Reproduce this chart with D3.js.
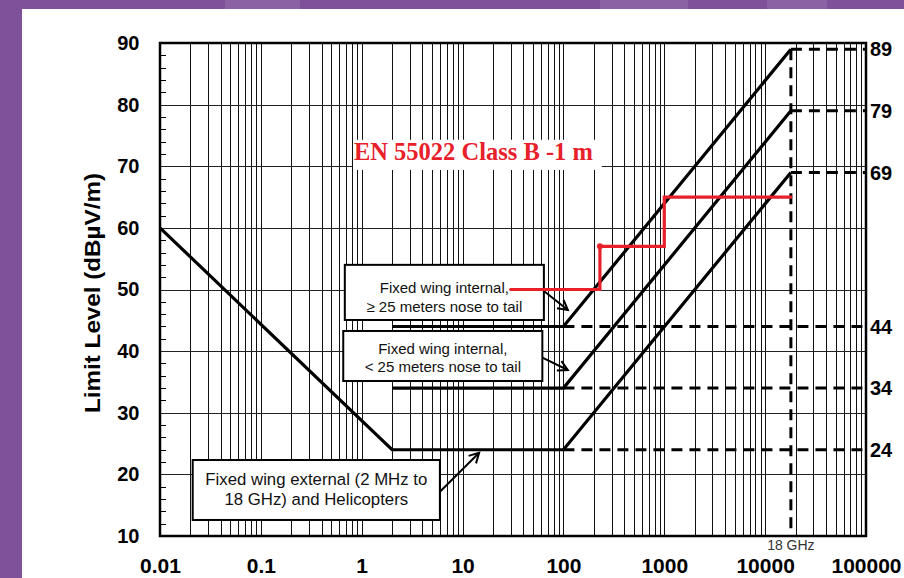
<!DOCTYPE html>
<html>
<head>
<meta charset="utf-8">
<script src="https://cdn.jsdelivr.net/npm/d3@7"></script>
<style>
  html, body { margin: 0; padding: 0; background: #7f519a; }
  svg { display: block; }
</style>
</head>
<body>
<svg id="chart" width="904" height="578"></svg>
<script>
// Frequency axis (MHz, log) and level axis (dBµV/m)
const freqDomain = [0.01, 100000];
const levelDomain = [10, 90];
const xTickValues = [0.01, 0.1, 1, 10, 100, 1000, 10000, 100000];
const xTickLabels = ["0.01", "0.1", "1", "10", "100", "1000", "10000", "100000"];
const yTickValues = [10, 20, 30, 40, 50, 60, 70, 80, 90];

// Limit curves
const externalFreq = [0.01, 2, 100, 18000];
const externalLevel = [60, 24, 24, 69];
const internalShortFreq = [2, 100, 18000];
const internalShortLevel = [34, 34, 79];
const internalLongFreq = [2, 100, 18000];
const internalLongLevel = [44, 44, 89];

// EN 55022 Class B at 1 m
const classBFreq = [30, 230, 230, 1000, 1000, 18000];
const classBLevel = [50, 50, 57, 57, 65, 65];

// Reference levels marked on the right
const kneeLevels = [24, 34, 44];
const topLevels = [69, 79, 89];
const rightLabels = ["89", "79", "69", "44", "34", "24"];
const rightLabelLevels = [89, 79, 69, 44, 34, 24];
const kneeFreq = 100;
const upperFreq = 18000;

const svg = d3.select("#chart");
const W = 904, H = 578;
const plot = { left: 160, right: 866, top: 43, bottom: 536 };
const FONT = "'Liberation Sans', Arial, Helvetica, sans-serif";

// page background: purple frame with white panel
svg.append("rect").attr("width", W).attr("height", H).attr("fill", "#7f519a");
[[225, 300], [600, 688], [767, 827]].forEach(([a, b]) => {
  svg.append("rect").attr("x", a).attr("y", 0).attr("width", b - a).attr("height", 9)
    .attr("fill", "#8b63a4");
});
svg.append("rect").attr("x", 22).attr("y", 9).attr("width", W - 22).attr("height", H - 9)
  .attr("fill", "#ffffff");

const x = d3.scaleLog().domain(freqDomain).range([plot.left, plot.right]);
const y = d3.scaleLinear().domain(levelDomain).range([plot.bottom, plot.top]);

// grid
const grid = svg.append("g");
grid.selectAll("line.v").data(x.ticks().filter(v => v > freqDomain[0] * 1.0001 && v < freqDomain[1] * 0.9999))
  .join("line").attr("class", "v")
  .attr("x1", d => Math.round(x(d)) + 0.5).attr("x2", d => Math.round(x(d)) + 0.5)
  .attr("y1", plot.top).attr("y2", plot.bottom)
  .attr("stroke", "#111").attr("stroke-width", 1);
grid.selectAll("line.h").data(yTickValues.slice(1, -1))
  .join("line").attr("class", "h")
  .attr("x1", plot.left).attr("x2", plot.right)
  .attr("y1", d => Math.round(y(d)) + 0.5).attr("y2", d => Math.round(y(d)) + 0.5)
  .attr("stroke", "#222").attr("stroke-width", 1);
grid.selectAll("line.m").data(d3.range(12, 90, 2).filter(v => v % 10 !== 0))
  .join("line").attr("class", "m")
  .attr("x1", plot.left).attr("x2", plot.left + 6)
  .attr("y1", d => Math.round(y(d)) + 0.5).attr("y2", d => Math.round(y(d)) + 0.5)
  .attr("stroke", "#000").attr("stroke-width", 1);

// plot frame
svg.append("rect").attr("x", plot.left).attr("y", plot.top)
  .attr("width", plot.right - plot.left).attr("height", plot.bottom - plot.top)
  .attr("fill", "none").attr("stroke", "#000").attr("stroke-width", 2.5);

// axes
const xAxis = svg.append("g").attr("transform", `translate(0,${plot.bottom})`)
  .call(d3.axisBottom(x).tickValues(xTickValues).tickSize(0)
    .tickFormat((d, i) => xTickLabels[i]));
xAxis.select(".domain").remove();
xAxis.selectAll("text").attr("y", 37).attr("dy", 0)
  .attr("font-family", FONT).attr("font-weight", "bold").attr("font-size", 21).attr("fill", "#000");

const yAxis = svg.append("g").attr("transform", `translate(${plot.left},0)`)
  .call(d3.axisLeft(y).tickValues(yTickValues).tickSize(0).tickPadding(20.5));
yAxis.select(".domain").remove();
yAxis.selectAll("text")
  .attr("font-family", FONT).attr("font-weight", "bold").attr("font-size", 20).attr("fill", "#000");

svg.append("text")
  .attr("transform", `translate(100,293) rotate(-90)`)
  .attr("text-anchor", "middle")
  .attr("font-family", FONT).attr("font-weight", "bold").attr("font-size", 22)
  .attr("textLength", 240).attr("lengthAdjust", "spacingAndGlyphs")
  .text("Limit Level (dBµV/m)");

// right-hand level labels
svg.append("g").selectAll("text").data(rightLabelLevels).join("text")
  .attr("x", plot.right + 4).attr("y", d => y(d)).attr("dy", "0.36em")
  .attr("font-family", FONT).attr("font-weight", "bold").attr("font-size", 20)
  .text((d, i) => rightLabels[i]);

svg.append("text").attr("x", x(upperFreq)).attr("y", 550).attr("text-anchor", "middle")
  .attr("font-family", FONT).attr("font-size", 14).attr("fill", "#333")
  .text("18 GHz");

// title label with white backing
const titleBox = { f0: 0.82, f1: 240, l0: 74.3, l1: 69.4 };
svg.append("rect").attr("x", x(titleBox.f0)).attr("y", y(titleBox.l0))
  .attr("width", x(titleBox.f1) - x(titleBox.f0)).attr("height", y(titleBox.l1) - y(titleBox.l0))
  .attr("fill", "#fff");
svg.append("text").attr("x", x(Math.sqrt(titleBox.f0 * titleBox.f1)) - 4).attr("y", y(71.0))
  .attr("text-anchor", "middle")
  .attr("font-family", "'Liberation Serif', 'Times New Roman', serif").attr("font-weight", "bold")
  .attr("font-size", 24.5).attr("fill", "#e8202a")
  .text("EN 55022 Class B -1 m");

// dashed reference lines
const dash = svg.append("g").attr("stroke", "#000").attr("stroke-width", 3)
  .attr("stroke-dasharray", "11,7").attr("fill", "none");
kneeLevels.forEach(l => {
  dash.append("line").attr("x1", x(kneeFreq)).attr("x2", plot.right)
    .attr("y1", y(l)).attr("y2", y(l));
});
topLevels.forEach(l => {
  dash.append("line").attr("x1", x(upperFreq)).attr("x2", plot.right)
    .attr("y1", y(l)).attr("y2", y(l));
});
dash.append("line").attr("x1", x(upperFreq)).attr("x2", x(upperFreq))
  .attr("y1", y(d3.max(topLevels))).attr("y2", plot.bottom);

// annotation boxes
const boxes = [
  { f0: 0.68, f1: 64, l0: 54.0, l1: 45.05, size: 15,
    lines: ["Fixed wing internal,", "≥ 25 meters nose to tail"], base: [49.5, 46.35] },
  { f0: 0.656, f1: 61.8, l0: 43.27, l1: 35.15, size: 15,
    lines: ["Fixed wing internal,", "< 25 meters nose to tail"], base: [39.5, 36.55] },
  { f0: 0.0211, f1: 5.96, l0: 22.33, l1: 12.6, size: 16.8,
    lines: ["Fixed wing external (2 MHz to", "18 GHz) and Helicopters"], base: [18.3, 15.05] }
];
const boxG = svg.append("g");
boxes.forEach(b => {
  boxG.append("rect").attr("x", x(b.f0)).attr("y", y(b.l0))
    .attr("width", x(b.f1) - x(b.f0)).attr("height", y(b.l1) - y(b.l0))
    .attr("fill", "#fff").attr("stroke", "#000").attr("stroke-width", 2);
  b.lines.forEach((t, i) => {
    boxG.append("text").attr("x", (x(b.f0) + x(b.f1)) / 2).attr("y", y(b.base[i]))
      .attr("text-anchor", "middle").attr("font-family", FONT).attr("font-size", b.size)
      .attr("fill", "#111").text(t);
  });
});

// limit curves
const line = d3.line().x(d => x(d[0])).y(d => y(d[1]));
const curves = [
  d3.zip(externalFreq, externalLevel),
  d3.zip(internalShortFreq, internalShortLevel),
  d3.zip(internalLongFreq, internalLongLevel)
];
svg.append("g").selectAll("path").data(curves).join("path")
  .attr("d", line).attr("fill", "none").attr("stroke", "#000")
  .attr("stroke-width", 3.2).attr("stroke-linejoin", "miter");

// arrows from annotation boxes to curves
const arrows = [
  { from: [64, 49.76], to: [110.6, 46.67] },
  { from: [61.8, 38.93], to: [110.6, 36.94] },
  { from: [5.96, 17.19], to: [14.6, 23.5] }
];
const arrowG = svg.append("g").attr("stroke", "#000").attr("stroke-width", 2).attr("fill", "none");
arrows.forEach(a => {
  const x0 = x(a.from[0]), y0 = y(a.from[1]), x1 = x(a.to[0]), y1 = y(a.to[1]);
  arrowG.append("line").attr("x1", x0).attr("y1", y0).attr("x2", x1).attr("y2", y1);
  const ang = Math.atan2(y1 - y0, x1 - x0), len = 11, spread = 0.5;
  const p1 = [x1 - len * Math.cos(ang - spread), y1 - len * Math.sin(ang - spread)];
  const p2 = [x1 - len * Math.cos(ang + spread), y1 - len * Math.sin(ang + spread)];
  arrowG.append("path").attr("d", `M${p1}L${x1},${y1}L${p2}`);
});

// EN 55022 Class B limit
const classB = d3.zip(classBFreq, classBLevel);
svg.append("path").attr("d", line(classB)).attr("fill", "none")
  .attr("stroke", "#e8202a").attr("stroke-width", 3.2)
  .attr("stroke-linecap", "round").attr("stroke-linejoin", "miter");
svg.append("circle").attr("cx", x(classBFreq[1])).attr("cy", y(classBLevel[2])).attr("r", 3)
  .attr("fill", "#e8202a");
</script>
</body>
</html>
